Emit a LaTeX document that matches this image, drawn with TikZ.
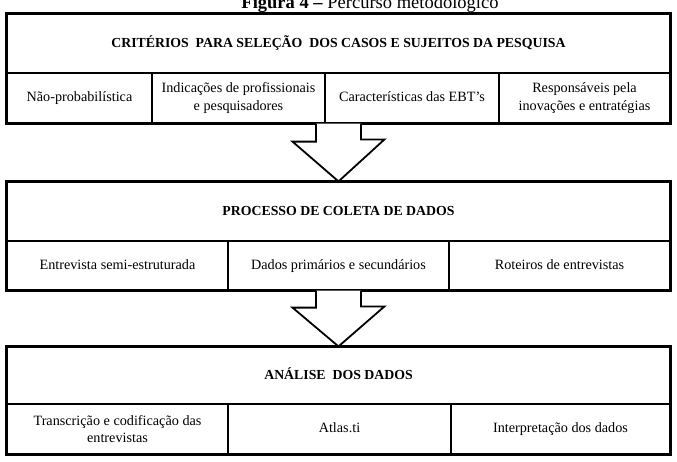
\documentclass[tikz,border=0pt]{standalone}
\usepackage{fontspec}
\setmainfont{Liberation Serif}
\begin{document}
\begin{tikzpicture}[x=1pt,y=-1pt,
  cell/.style={draw=black,line width=1.2pt,rectangle,inner sep=0pt,align=center,font=\fontsize{14.2}{17.5}\selectfont},
  one/.style={cell,text height=10pt,text depth=3pt},
  head/.style={cell,text height=10pt,text depth=3pt,font=\bfseries\fontsize{13.8}{15}\selectfont},
  outer/.style={draw=black,line width=2.4pt},
  blockarrow/.style={draw=black,line width=1.8pt,fill=white,line join=miter}]
\useasboundingbox (0,0) rectangle (677,461);
% title
\node[anchor=base,inner sep=0pt,font=\fontsize{18.5}{20}\selectfont] (title) at (370,8.5) {\textbf{Figura 4 –} Percurso metodológico};
% ---- box 1
\node[head,minimum width=663pt,minimum height=59pt] (h1) at (338.5,43.5) {CRITÉRIOS\ \ PARA SELEÇÃO\ \ DOS CASOS E SUJEITOS DA PESQUISA};
\node[one,minimum width=145pt,minimum height=50pt] (a1) at (79.5,98) {Não-probabilística};
\node[cell,minimum width=173pt,minimum height=50pt] (a2) at (238.5,98) {Indicações de profissionais\\e pesquisadores};
\node[one,minimum width=174pt,minimum height=50pt] (a3) at (412,98) {Características das EBT’s};
\node[cell,minimum width=171pt,minimum height=50pt] (a4) at (584.5,98) {Responsáveis pela\\inovações e entratégias};
\draw[outer] (h1.north west) rectangle (a4.south east);
% ---- box 2
\node[head,minimum width=663pt,minimum height=59pt] (h2) at (338.5,211.5) {PROCESSO DE COLETA DE DADOS};
\node[one,minimum width=221pt,minimum height=49pt] (b1) at (117.5,265.5) {Entrevista semi-estruturada};
\node[one,minimum width=221pt,minimum height=49pt] (b2) at (338.5,265.5) {Dados primários e secundários};
\node[one,minimum width=221pt,minimum height=49pt] (b3) at (559.5,265.5) {Roteiros de entrevistas};
\draw[outer] (h2.north west) rectangle (b3.south east);
% ---- box 3
\node[head,minimum width=663pt,minimum height=57pt] (h3) at (338.5,375.5) {ANÁLISE\ \ DOS DADOS};
\node[cell,minimum width=221pt,minimum height=50pt] (c1) at (117.5,429) {Transcrição e codificação das\\entrevistas};
\node[one,minimum width=223pt,minimum height=50pt] (c2) at (339.5,429) {Atlas.ti};
\node[one,minimum width=219pt,minimum height=50pt] (c3) at (560.5,429) {Interpretação dos dados};
\draw[outer] (h3.north west) rectangle (c3.south east);
% ---- arrows
\draw[blockarrow] ([xshift=-22.5pt]b2.north |- a3.south) -- ++(0,18) -- ++(-23.5,0)
  -- (h2.north) -- ++(46,-42) -- ++(-23.5,0) -- ([xshift=22.5pt]b2.north |- a3.south);
\draw[blockarrow] ([xshift=-22.5pt]b2.south) -- ++(0,17) -- ++(-23.5,0)
  -- (h3.north) -- ++(46,-40) -- ++(-23.5,0) -- ([xshift=22.5pt]b2.south);
\end{tikzpicture}
\end{document}
